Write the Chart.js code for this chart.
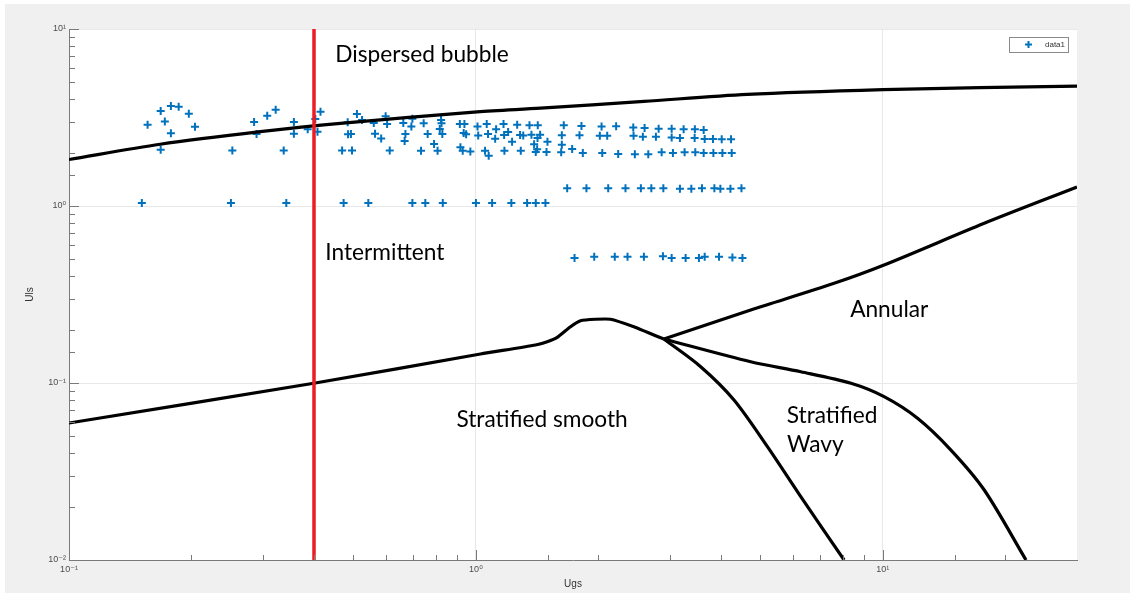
<!DOCTYPE html>
<html>
<head>
<meta charset="utf-8">
<script src="https://cdn.jsdelivr.net/npm/chart.js@4.4.1/dist/chart.umd.min.js"></script>
<style>
  html, body { margin: 0; padding: 0; background: #fff; }
  canvas { display: block; }
</style>
</head>
<body>
<canvas id="flowMap" width="1132" height="594"></canvas>
<script>
// measured points (superficial gas / liquid velocity)
const ugsData = [
  0.156, 0.168, 0.172, 0.168, 0.178, 0.186, 0.178, 0.197, 0.204, 0.151,
  0.252, 0.250, 0.285, 0.289, 0.307, 0.322, 0.357, 0.357, 0.337, 0.342,
  0.386, 0.403, 0.408, 0.415, 0.484, 0.485, 0.493, 0.469, 0.496, 0.510,
  0.525, 0.473, 0.544, 0.561, 0.565, 0.585, 0.600, 0.605, 0.614, 0.663,
  0.671, 0.668, 0.694, 0.698, 0.698, 0.733, 0.744, 0.761, 0.751, 0.789,
  0.805, 0.815, 0.821, 0.823, 0.827, 0.829, 0.913, 0.937, 0.933, 0.946,
  0.916, 0.928, 0.969, 1.00, 1.009, 1.013, 1.053, 1.075, 1.063, 1.071,
  1.096, 1.121, 1.115, 1.169, 1.173, 1.200, 1.175, 1.227, 1.222, 1.263,
  1.284, 1.307, 1.289, 1.336, 1.354, 1.369, 1.390, 1.403, 1.414, 1.419,
  1.417, 1.438, 1.403, 1.491, 1.499, 1.482, 1.644, 1.626, 1.626, 1.724,
  1.620, 1.831, 1.817, 1.797, 1.676, 1.747, 2.036, 2.211, 2.016, 2.102,
  2.044, 2.237, 1.869, 1.953, 2.114, 2.194, 2.331, 2.358, 2.436, 2.597,
  2.440, 2.572, 2.458, 2.652, 2.543, 2.698, 2.587, 2.812, 2.769, 2.860,
  2.888, 2.881, 3.027, 3.027, 3.172, 3.049, 3.172, 3.027, 3.239, 3.257,
  3.383, 3.276, 3.452, 3.628, 3.447, 3.460, 3.628, 3.593, 3.532, 3.649,
  3.649, 3.824, 4.018, 4.236, 3.833, 4.034, 4.252, 3.855, 3.988, 4.221,
  4.493, 3.957, 4.269, 4.518
];
const ulsData = [
  2.88, 3.44, 3.00, 2.08, 3.67, 3.64, 2.575, 3.32, 2.80, 1.04,
  2.06, 1.04, 2.98, 2.55, 3.24, 3.50, 2.98, 2.56, 2.06, 1.04,
  2.71, 3.10, 2.63, 3.41, 2.97, 2.54, 2.55, 2.06, 2.06, 3.31,
  3.06, 1.04, 1.04, 2.94, 2.56, 2.41, 3.21, 2.91, 2.06, 2.94,
  2.55, 2.33, 2.81, 3.11, 1.04, 2.05, 2.93, 2.55, 1.04, 2.24,
  2.05, 2.72, 3.06, 2.93, 2.55, 1.04, 2.91, 2.91, 2.585, 2.54,
  2.15, 2.05, 2.03, 1.04, 2.81, 2.50, 2.05, 1.92, 2.91, 2.55,
  1.04, 2.71, 2.40, 2.91, 2.52, 2.62, 2.05, 2.31, 1.04, 2.88,
  2.52, 2.50, 2.05, 1.04, 2.86, 2.53, 2.23, 2.02, 2.09, 2.86,
  2.42, 2.53, 1.04, 2.02, 2.31, 1.04, 2.86, 2.51, 2.22, 2.10,
  2.01, 1.99, 2.83, 2.51, 1.26, 0.508, 2.81, 2.82, 2.49, 2.49,
  1.99, 1.97, 1.26, 0.517, 1.26, 0.517, 1.26, 0.517, 2.78, 2.76,
  2.49, 2.46, 1.96, 1.96, 1.26, 1.26, 0.517, 2.73, 2.46, 2.01,
  1.26, 0.52, 2.73, 2.44, 2.42, 1.99, 1.25, 0.508, 2.71, 2.01,
  1.25, 0.508, 2.71, 2.69, 2.42, 2.01, 1.99, 1.26, 0.508, 0.517,
  2.39, 2.39, 2.38, 2.38, 1.99, 1.99, 1.99, 1.26, 1.25, 1.25,
  1.26, 0.517, 0.512, 0.508
];

// regime boundaries
const bubbleUgs = [0.1, 0.1675, 0.2951, 0.4642, 1.007, 1.441, 2.587, 4.645, 10, 17.3, 30];
const bubbleUls = [1.831, 2.232, 2.63, 2.932, 3.40, 3.568, 3.90, 4.27, 4.546, 4.66, 4.76];

const smoothUgs = [0.1, 0.403, 1.026, 1.401, 1.497, 1.584, 1.708, 1.807, 1.968, 2.142, 2.444, 2.637, 2.897];
const smoothUls = [0.0594, 0.1, 0.1458, 0.1639, 0.1712, 0.1812, 0.208, 0.2249, 0.2291, 0.2291, 0.208, 0.1934, 0.1772];

const annularUgs = [2.897, 4.735, 7.59, 10.07, 17.75, 30];
const annularUls = [0.1772, 0.2585, 0.3659, 0.4642, 0.7985, 1.28];

const wavyLeftUgs = [2.897, 3.567, 4.307, 5.204, 6.285, 8.03];
const wavyLeftUls = [0.1772, 0.1236, 0.0802, 0.0437, 0.0228, 0.01];

const wavyRightUgs = [2.897, 4.735, 6.285, 8.35, 10.07, 12.17, 14.7, 17.75, 22.48];
const wavyRightUls = [0.1772, 0.1319, 0.1158, 0.0996, 0.0837, 0.0632, 0.0418, 0.02486, 0.01];

const cutoffUgs = [0.4, 0.4];
const cutoffUls = [0.01, 10];

// region names, anchored at (Ugs, Uls) of the text's left baseline
const regimeLabels = [
  { text: 'Dispersed bubble', ugs: 0.451, uls: 6.51 },
  { text: 'Intermittent', ugs: 0.4264, uls: 0.4985 },
  { text: 'Annular', ugs: 8.31, uls: 0.2369 },
  { text: 'Stratified smooth', ugs: 0.8953, uls: 0.0561 },
  { text: 'Stratified', ugs: 5.805, uls: 0.0592, boxed: true },
  { text: 'Wavy', ugs: 5.815, uls: 0.0408, boxed: true }
];

const SUP = { '0': '⁰', '1': '¹', '2': '²', '3': '³', '-': '⁻' };

function isDecade(v) {
  const e = Math.log10(v);
  return Math.abs(e - Math.round(e)) < 1e-6;
}

function decadeLabel(v) {
  if (!isDecade(v)) return '';
  const e = String(Math.round(Math.log10(v)));
  return '10' + e.split('').map(c => SUP[c]).join('');
}

function toPoints(xs, ys) {
  return xs.map((x, i) => ({ x: x, y: ys[i] }));
}

function boundary(xs, ys, tension) {
  return {
    data: toPoints(xs, ys),
    showLine: true,
    borderColor: '#000000',
    borderWidth: 3.2,
    pointRadius: 0,
    tension: tension,
    order: 2
  };
}

const mapFrame = {
  id: 'mapFrame',
  beforeDraw(chart) {
    const { ctx, chartArea: a } = chart;
    ctx.save();
    ctx.fillStyle = '#ffffff';
    ctx.fillRect(0, 0, chart.width, chart.height);
    ctx.fillStyle = '#f0f0f0';
    ctx.fillRect(5, 4, chart.width - 7, chart.height - 5);
    ctx.fillStyle = '#ffffff';
    ctx.fillRect(a.left, a.top, a.right - a.left, a.bottom - a.top);
    ctx.restore();
  },
  afterDatasetsDraw(chart) {
    const { ctx, chartArea: a, scales: { x, y } } = chart;
    ctx.save();

    // ticks pointing into the plot, like matlab
    ctx.strokeStyle = '#7a7a7a';
    ctx.lineWidth = 1;
    x.ticks.forEach(t => {
      if (t.value >= x.max) return;
      const px = Math.round(x.getPixelForValue(t.value)) + 0.5;
      ctx.beginPath();
      ctx.moveTo(px, a.bottom);
      ctx.lineTo(px, a.bottom - (isDecade(t.value) ? 10 : 5));
      ctx.stroke();
    });
    y.ticks.forEach(t => {
      const py = Math.round(y.getPixelForValue(t.value)) + 0.5;
      ctx.beginPath();
      ctx.moveTo(a.left, py);
      ctx.lineTo(a.left + (isDecade(t.value) ? 10 : 6), py);
      ctx.stroke();
    });

    // region names
    ctx.font = '22.7px Lato';
    ctx.textAlign = 'left';
    ctx.textBaseline = 'alphabetic';
    regimeLabels.forEach(l => {
      const px = x.getPixelForValue(l.ugs);
      const py = y.getPixelForValue(l.uls);
      if (l.boxed) {
        ctx.fillStyle = '#ffffff';
        ctx.fillRect(px - 2, py - 19, ctx.measureText(l.text).width + 4, 28);
      }
      ctx.fillStyle = '#000000';
      ctx.fillText(l.text, px, py);
    });

    // legend box
    const lx = a.right - 68, ly = a.top + 8, lw = 59, lh = 15;
    ctx.fillStyle = '#ffffff';
    ctx.fillRect(lx, ly, lw, lh);
    ctx.strokeStyle = '#8a8a8a';
    ctx.strokeRect(lx + 0.5, ly + 0.5, lw, lh);
    ctx.strokeStyle = '#0072bd';
    ctx.lineWidth = 2;
    Chart.helpers.drawPoint(ctx, { pointStyle: 'cross', radius: 3.5, borderWidth: 2 }, lx + 19.5, ly + 7.5);
    ctx.fillStyle = '#333333';
    ctx.font = '8px "Liberation Sans"';
    ctx.textBaseline = 'middle';
    ctx.fillText('data1', lx + 36, ly + 8);

    ctx.restore();
  }
};

const ctx = document.getElementById('flowMap').getContext('2d');
new Chart(ctx, {
  type: 'scatter',
  data: {
    datasets: [
      {
        label: 'data1',
        data: toPoints(ugsData, ulsData),
        pointStyle: 'cross',
        pointRadius: 4,
        borderWidth: 2,
        borderColor: '#0072bd',
        backgroundColor: '#0072bd',
        order: 3
      },
      boundary(bubbleUgs, bubbleUls, 0.3),
      boundary(smoothUgs, smoothUls, 0.2),
      boundary(annularUgs, annularUls, 0.3),
      boundary(wavyLeftUgs, wavyLeftUls, 0.3),
      boundary(wavyRightUgs, wavyRightUls, 0.3),
      {
        data: toPoints(cutoffUgs, cutoffUls),
        showLine: true,
        borderColor: '#ed1c24',
        borderWidth: 3.5,
        pointRadius: 0,
        order: 1
      }
    ]
  },
  options: {
    responsive: false,
    animation: false,
    layout: { padding: { top: 29, right: 55, left: 0, bottom: 0 } },
    plugins: {
      legend: { display: false },
      tooltip: { enabled: false }
    },
    scales: {
      x: {
        type: 'logarithmic',
        min: 0.1,
        max: 30,
        afterFit: s => { s.height = 34; },
        grid: {
          drawTicks: false,
          color: c => (c.tick && isDecade(c.tick.value)) ? '#e8e8e8' : 'rgba(0,0,0,0)'
        },
        border: { display: true, color: '#7a7a7a', width: 1 },
        ticks: {
          autoSkip: false,
          maxRotation: 0,
          padding: 4,
          color: '#4d4d4d',
          font: { family: '"Liberation Sans", "DejaVu Sans"', size: 9 },
          callback: v => decadeLabel(v)
        },
        title: {
          display: true,
          text: 'Ugs',
          color: '#333333',
          font: { family: '"Liberation Sans", "DejaVu Sans"', size: 10 },
          padding: { top: 0, bottom: 4 }
        }
      },
      y: {
        type: 'logarithmic',
        min: 0.01,
        max: 10,
        afterFit: s => { s.width = 69; },
        grid: {
          drawTicks: false,
          color: c => (c.tick && isDecade(c.tick.value)) ? '#e8e8e8' : 'rgba(0,0,0,0)'
        },
        border: { display: true, color: '#7a7a7a', width: 1 },
        ticks: {
          autoSkip: false,
          padding: 3,
          color: '#4d4d4d',
          font: { family: '"Liberation Sans", "DejaVu Sans"', size: 9 },
          callback: v => decadeLabel(v)
        },
        title: {
          display: true,
          text: 'Uls',
          color: '#333333',
          font: { family: '"Liberation Sans", "DejaVu Sans"', size: 10 },
          padding: { top: 24, bottom: 0 }
        }
      }
    }
  },
  plugins: [mapFrame]
});
</script>
</body>
</html>
